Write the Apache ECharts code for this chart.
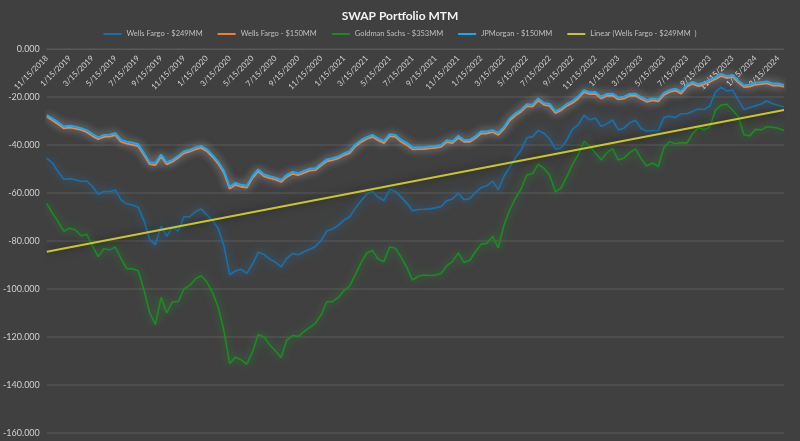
<!DOCTYPE html>
<html>
<head>
<meta charset="utf-8">
<script src="https://cdn.jsdelivr.net/npm/echarts@6/dist/echarts.min.js"></script>
<style>
	html, body { margin: 0; padding: 0; background: #404040; }
	#mtmChart { width: 800px; height: 441px; }
</style>
</head>
<body>
<div id="mtmChart"></div>
<script>
	// semi-monthly dates, 11/15/2018 .. 4/1/2024
	const dates = []
	let y = 2018, m = 11, d = 15
	while (dates.length < 130) {
		dates.push(m + '/' + d + '/' + y)
		if (d === 15) { d = 1; m++; if (m > 12) { m = 1; y++ } } else { d = 15 }
	}

	const yTicks = [0, -20, -40, -60, -80, -100, -120, -140, -160]

	const wf249 = [-45.5,-47.5,-51.2,-54.3,-54,-54.5,-55.2,-55,-57.3,-60.5,
		-59.4,-59.4,-58.8,-62.9,-64.5,-65,-65.9,-71.5,-79.3,-81.6,
		-73.8,-78,-74.2,-75.9,-69.9,-69.9,-67.8,-66.6,-69.1,-71.4,
		-74.8,-82,-94,-92.5,-91.8,-93.5,-89.6,-84.7,-85.6,-87.5,
		-88.8,-90.8,-87.2,-85.2,-85.7,-84.5,-83.4,-82.3,-79.8,-75.8,
		-75,-73.5,-71.3,-69.9,-66.3,-63.2,-60.4,-59.4,-61.8,-63.1,
		-58.6,-59.3,-61.7,-64.2,-67.4,-66.9,-66.8,-66.6,-66.2,-65.6,
		-63.2,-62.5,-60,-62.8,-62.4,-59.8,-57.8,-57,-55,-58.6,
		-53,-49.3,-45.3,-42.2,-37,-36.5,-33.9,-35.1,-37.5,-41.6,
		-41.3,-37.9,-33.4,-31.6,-27.6,-29.5,-28.8,-32.3,-31.2,-29.5,
		-33.7,-33,-30.8,-29.7,-33.1,-34.3,-34,-34,-28.5,-28,
		-28.6,-27,-27,-26,-25,-25.2,-23.8,-18,-15.9,-17.5,
		-17.1,-21.3,-25.2,-24.4,-23.7,-22.9,-21.7,-22.8,-23.4,-24.2]

	const wf150 = [-28.2,-29.8,-31.4,-33.1,-32.8,-33.2,-33.7,-34.7,-36.3,-37.6,
		-36.6,-36.5,-35.9,-38.7,-39.4,-39.9,-40.5,-44.2,-48,-48.4,
		-44.8,-48.1,-47,-45.3,-43.5,-42.8,-41.8,-41.2,-42.6,-45,
		-47.8,-51.6,-58.2,-56.6,-57.4,-57.8,-53.8,-51,-53.1,-53.8,
		-54.4,-55.4,-53.3,-52,-52.6,-51.6,-50.7,-50.5,-48.6,-46.8,
		-46.3,-45.6,-44.3,-43.4,-40.6,-38.8,-37.5,-36.6,-38.1,-39.2,
		-36.3,-36.6,-38.7,-40,-41.8,-41.7,-41.7,-41.4,-41.2,-40.8,
		-38.8,-39.2,-37,-38.7,-38.7,-37.2,-35.2,-35.2,-34.6,-35.8,
		-33.3,-29.8,-27.7,-26.1,-23.8,-24,-21.4,-23.3,-23.7,-26.8,
		-25.5,-23.7,-22.5,-20.6,-18,-18.8,-18.7,-20.7,-19.5,-19.4,
		-21,-20.7,-19.5,-19.4,-20.8,-22,-21.4,-21.8,-19.1,-17.9,
		-17.3,-18.6,-15.7,-14.5,-15.5,-14.8,-13.7,-12.6,-11.2,-12.1,
		-11.6,-14,-15.9,-15.7,-14.9,-14.6,-14.3,-15.2,-15.2,-15.8]

	const gs353 = [-64.3,-68.5,-72,-76,-74.7,-75.3,-77.8,-77.2,-82,-86.5,
		-83.2,-83.7,-82.5,-87.4,-91.5,-91.6,-92.4,-100.4,-109.8,-114.8,
		-103.5,-110,-105.3,-105.3,-100,-98.6,-95.8,-94.5,-97,-101.5,
		-107.5,-117.5,-131,-128.4,-129.5,-131.3,-126.2,-119,-120,-123.2,
		-125.7,-128.5,-121.3,-119.4,-119.8,-117.8,-116,-114.3,-110.8,-105.3,
		-105.3,-103.5,-100.7,-98.8,-94,-89,-85,-84,-87.6,-88.5,
		-82.5,-83,-86.7,-91,-96.3,-94.7,-94.2,-94.4,-94.2,-93.5,
		-90.3,-88.5,-85,-88.9,-88.1,-84.5,-81.3,-81,-78.1,-82.8,
		-73.4,-67,-62.2,-58.3,-52.5,-52,-48,-49.7,-52.6,-59.5,
		-57.9,-53.2,-48.1,-44,-38.5,-40.5,-43.3,-46.2,-43.2,-41.5,
		-46.2,-45.5,-43.2,-41.6,-45.7,-48.7,-47.5,-49,-41,-38.6,
		-39.5,-39,-39.2,-35.3,-32.9,-33.6,-32.6,-25.5,-23.4,-23,
		-25.4,-28.2,-35.7,-36.2,-33.5,-33.7,-32.4,-32.6,-33,-34]

	const jpm150 = [-27.5,-29,-30.6,-32.3,-32,-32.4,-33,-33.9,-35.5,-36.8,
		-35.8,-35.7,-35.1,-37.9,-38.6,-39.1,-39.7,-43.4,-47.2,-47.5,
		-44,-47.3,-46.2,-44.5,-42.7,-42,-41,-40.4,-41.8,-44.2,
		-47,-50.8,-57.4,-55.8,-56.6,-57,-53,-50.2,-52.3,-53,
		-53.6,-54.6,-52.5,-51.2,-51.8,-50.8,-49.9,-49.7,-47.8,-46,
		-45.5,-44.8,-43.5,-42.6,-39.8,-38,-36.7,-35.8,-37.3,-38.4,
		-35.5,-35.8,-37.9,-39.2,-41,-40.9,-40.9,-40.6,-40.4,-40,
		-38,-38.4,-36.2,-37.9,-37.9,-36.4,-34.4,-34.4,-33.8,-35,
		-32.5,-29,-26.9,-25.3,-23,-23.2,-20.6,-22.5,-22.9,-26,
		-24.7,-22.9,-21.7,-19.8,-17.2,-18,-17.9,-19.9,-18.7,-18.6,
		-20.2,-19.9,-18.7,-18.6,-20,-21.2,-20.6,-21,-18.3,-17.1,
		-16.5,-17.8,-14.9,-13.7,-14.7,-14,-12.9,-11.8,-10.4,-11.3,
		-10.8,-13.2,-15.1,-14.9,-14.1,-13.8,-13.5,-14.4,-14.4,-15]

	// trend line end points (Excel linear trendline on WF $249MM)
	const trendStart = -84.5
	const trendEnd = -25.4
	const trend = dates.map((t, i) => i === 0 ? trendStart : (i === dates.length - 1 ? trendEnd : null))

	const names = ['Wells Fargo - $249MM', 'Wells Fargo - $150MM', 'Goldman Sachs - $353MM', 'JPMorgan - $150MM', 'Linear (Wells Fargo - $249MM  )']

	const lineSeries = (name, data, color, glow, width) => ({
		name: name,
		type: 'line',
		data: data,
		showSymbol: false,
		symbol: 'none',
		lineStyle: { color: color, width: width, shadowColor: glow, shadowBlur: 8 },
		itemStyle: { color: color }
	})

	const chart = echarts.init(document.getElementById('mtmChart'))
	const option = {
		backgroundColor: '#404040',
		animation: false,
		textStyle: { fontFamily: 'Lato, "Open Sans", sans-serif' },
		title: {
			text: 'SWAP Portfolio MTM',
			left: 'center',
			top: 5,
			textStyle: { color: '#f2f2f2', fontSize: 12, fontWeight: 'bold', fontFamily: 'Lato, sans-serif' }
		},
		legend: {
			data: names,
			top: 25,
			left: 'center',
			icon: 'rect',
			itemWidth: 18,
			itemHeight: 2,
			itemGap: 15,
			textStyle: { color: '#bfbfbf', fontSize: 7.5 }
		},
		grid: { left: 40, right: 16, top: 49, bottom: 8 },
		xAxis: {
			type: 'category',
			position: 'top',
			data: dates,
			boundaryGap: false,
			axisLine: { lineStyle: { color: '#595959', width: 1 } },
			axisTick: { show: false },
			axisLabel: { inside: true, interval: 3, rotate: 45, color: '#d0d0d0', fontSize: 8, margin: 8 },
			splitLine: { show: false }
		},
		yAxis: {
			type: 'value',
			min: yTicks[yTicks.length - 1],
			max: yTicks[0],
			interval: 20,
			axisLine: { show: false },
			axisTick: { show: false },
			axisLabel: { color: '#d0d0d0', fontSize: 9, margin: 7, formatter: v => v.toFixed(3) },
			splitLine: { lineStyle: { color: '#525252', width: 1.5 } }
		},
		series: [
			lineSeries(names[0], wf249, '#1f6fa6', 'rgba(40,130,200,0.8)', 1.6),
			lineSeries(names[1], wf150, '#ee7d3a', 'rgba(255,220,200,0.5)', 1.8),
			lineSeries(names[2], gs353, '#1e8a25', 'rgba(40,170,50,0.7)', 1.6),
			lineSeries(names[3], jpm150, '#1aaaf0', 'rgba(230,240,250,0.5)', 2),
			Object.assign(lineSeries(names[4], trend, '#c8c62a', 'rgba(0,0,0,0.6)', 2), { connectNulls: true })
		]
	}
	chart.setOption(option)
	window.onresize = function() {
		chart.resize()
	}
</script>
</body>
</html>
